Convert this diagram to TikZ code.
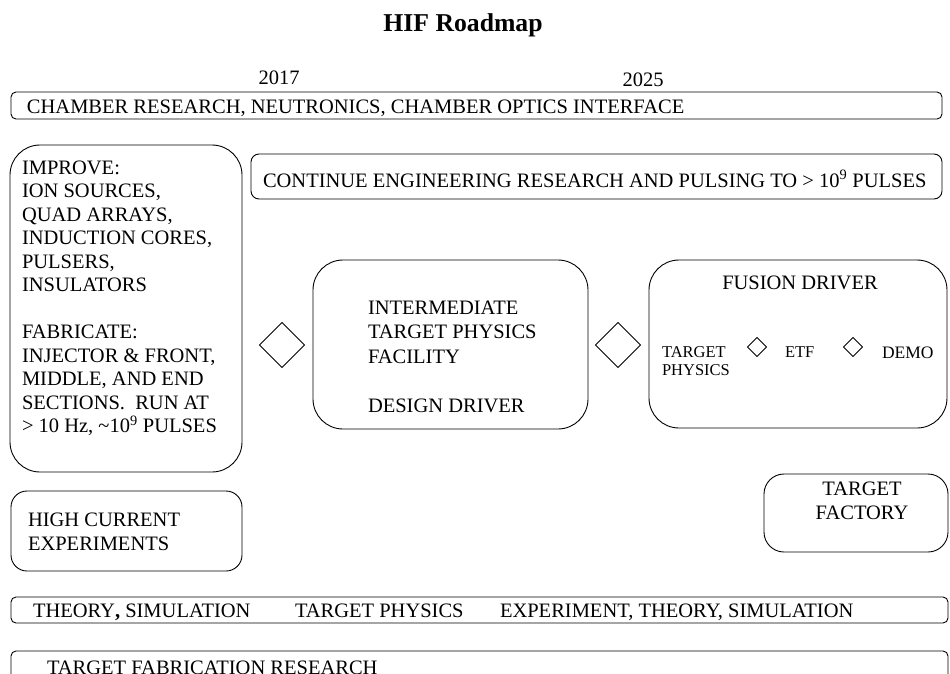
\documentclass[tikz,border=0pt]{standalone}
\usepackage{fontspec}
\setmainfont{Liberation Serif}
\usetikzlibrary{shapes.geometric,fit}
\begin{document}
\begin{tikzpicture}[x=1pt,y=-1pt,
  box/.style={draw, line width=0.9pt, inner sep=0pt, outer sep=0pt},
  txt/.style={inner sep=0pt, outer sep=0pt, anchor=base west, align=left, font=\fontsize{20.5}{23.5}\selectfont},
  smalltxt/.style={txt, font=\fontsize{16.5}{18}\selectfont},
  dia/.style={draw, diamond, line width=0.9pt, inner sep=0pt, outer sep=0pt, minimum width=45pt, minimum height=45pt},
  sdia/.style={dia, minimum width=19pt, minimum height=19pt},
]
\useasboundingbox (0,0) rectangle (950,673);
\clip (0,0) rectangle (950,673);

% title and years
\node[inner sep=0pt, anchor=base, font=\fontsize{25.7}{28}\selectfont\bfseries] (title) at (463,31) {HIF Roadmap};
\node[txt, anchor=base] (y2017) at (279,84) {2017};
\node[txt, anchor=base] (y2025) at (643,86) {2025};

% boxes
\node[box, rounded corners=5pt, fit={(11,92) (942,119)}] (top) {};
\node[box, rounded corners=30pt, fit={(10,145) (242,472)}] (left) {};
\node[box, rounded corners=8pt, fit={(251,154) (942,199)}] (cont) {};
\node[box, rounded corners=30pt, fit={(313,260) (588,429)}] (mid) {};
\node[box, rounded corners=30pt, fit={(649,260) (947,428)}] (fus) {};
\node[box, rounded corners=20pt, fit={(764,474) (948,552)}] (fac) {};
\node[box, rounded corners=16pt, fit={(11,491) (242,571)}] (hc) {};
\node[box, rounded corners=5pt, fit={(11,597) (948,623)}] (th) {};
\node[box, rounded corners=5pt, fit={(11,651) (948,700)}] (fab) {};

% diamonds
\node[dia] (d1) at (282,345) {};
\node[dia] (d2) at (618,345) {};
\node[sdia] (s1) at (757,347) {};
\node[sdia] (s2) at (853,347) {};

% texts (multi-line nodes are placed by the baseline of their last line)
\node[txt] (toptxt) at (27,113) {CHAMBER RESEARCH, NEUTRONICS, CHAMBER OPTICS INTERFACE};
\node[txt] (lefttxt) at (22,432.7) {IMPROVE:\\ION SOURCES,\\QUAD ARRAYS,\\INDUCTION CORES,\\PULSERS,\\INSULATORS\\[23.5pt]FABRICATE:\\INJECTOR \& FRONT,\\MIDDLE, AND END\\SECTIONS.~ RUN AT\\> 10 Hz, \textasciitilde10\textsuperscript{9} PULSES};
\node[txt] (conttxt) at (263,187) {CONTINUE ENGINEERING RESEARCH AND PULSING TO > 10\textsuperscript{9} PULSES};
\node[txt, font=\fontsize{20.5}{24.5}\selectfont] (midtxt) at (368,412) {INTERMEDIATE\\TARGET PHYSICS\\FACILITY\\[24.5pt]DESIGN DRIVER};
\node[txt, anchor=base] (fustxt) at (800,289) {FUSION DRIVER};
\node[smalltxt] (tp) at (662,375) {TARGET\\PHYSICS};
\node[smalltxt] (etf) at (785,357) {ETF};
\node[txt, font=\fontsize{17.5}{19}\selectfont] (demo) at (882,358) {DEMO};
\node[txt, anchor=base, align=center, font=\fontsize{20.5}{24}\selectfont] (factxt) at (862,519) {TARGET\\FACTORY};
\node[txt] (hctxt) at (28,550) {HIGH CURRENT\\EXPERIMENTS};
\node[txt] (th1) at (33,617) {THEORY{\bfseries,} SIMULATION};
\node[txt] (th2) at (295,617) {TARGET PHYSICS};
\node[txt] (th3) at (500,617) {EXPERIMENT, THEORY, SIMULATION};
\node[txt] (fabtxt) at (47,674) {TARGET FABRICATION RESEARCH};
\end{tikzpicture}
\end{document}
